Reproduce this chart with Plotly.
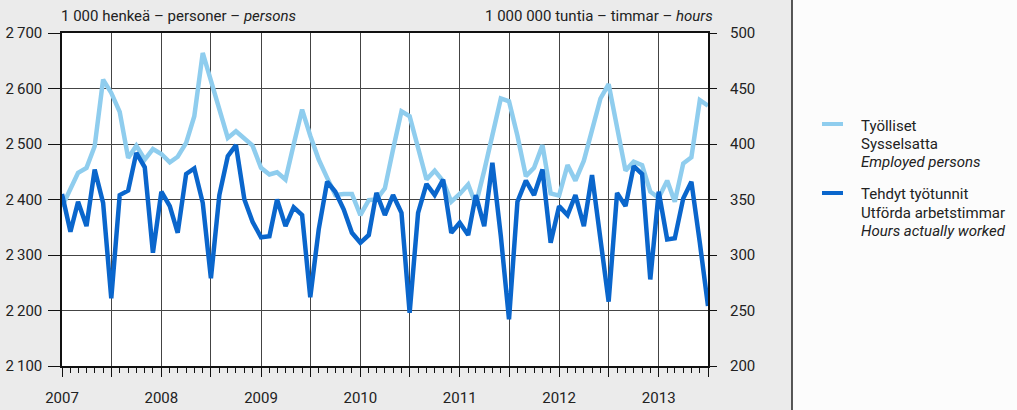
import plotly.graph_objects as go
import pandas as pd

# Monthly data Jan 2007 – Jul 2013
months = pd.date_range("2007-01-01", "2013-07-01", freq="MS")

employed_persons = [  # 1 000 persons (left axis)
    2387, 2420, 2448, 2457, 2496, 2616, 2592, 2558, 2475, 2497, 2472, 2491,
    2482, 2467, 2477, 2502, 2550, 2664, 2612, 2562, 2511, 2523, 2511, 2497,
    2457, 2445, 2449, 2436, 2499, 2562, 2515, 2472, 2439, 2408, 2410, 2410,
    2372, 2399, 2400, 2420, 2490, 2559, 2550, 2493, 2436, 2452, 2433, 2396,
    2410, 2427, 2391, 2452, 2512, 2582, 2577, 2515, 2442, 2457, 2498, 2411,
    2407, 2462, 2434, 2470, 2525, 2582, 2608, 2528, 2452, 2468, 2462, 2414,
    2403, 2434, 2396, 2465, 2476, 2579, 2569,
]

hours_worked = [  # 1 000 000 hours (right axis)
    355, 321, 348, 326, 377, 347, 261, 354, 358, 392, 379, 302,
    357, 344, 320, 373, 378, 347, 279, 354, 389, 399, 350, 330,
    316, 317, 350, 326, 343, 336, 262, 323, 366, 357, 341, 320,
    311, 318, 356, 336, 354, 338, 248, 338, 364, 354, 368, 320,
    329, 318, 354, 326, 383, 317, 242, 348, 367, 354, 377, 311,
    344, 336, 354, 326, 372, 317, 258, 356, 344, 380, 373, 278,
    357, 314, 315, 351, 366, 311, 254,
]

year_labels = ["2007", "2008", "2009", "2010", "2011", "2012", "2013"]
persons_ticks = [2100, 2200, 2300, 2400, 2500, 2600, 2700]
persons_ticktext = ["2\u2009100", "2\u2009200", "2\u2009300", "2\u2009400",
                    "2\u2009500", "2\u2009600", "2\u2009700"]
hours_ticks = [200, 250, 300, 350, 400, 450, 500]

legend_persons = ["Työlliset", "Sysselsatta", "<i>Employed persons</i>"]
legend_hours = ["Tehdyt työtunnit", "Utförda arbetstimmar", "<i>Hours actually worked</i>"]

LIGHT = "#8fcdee"
DARK = "#0a66cc"
TXT = "#222222"
FONT = "Roboto, Liberation Sans, sans-serif"

W, H = 1017, 410
PL, PR, PT, PB = 62, 708, 33, 366  # plot area in window pixels

fig = go.Figure()
fig.add_trace(go.Scatter(x=months, y=employed_persons, mode="lines",
                         line=dict(color=LIGHT, width=4.5), yaxis="y", showlegend=False,
                         hoverinfo="skip"))
fig.add_trace(go.Scatter(x=months, y=hours_worked, mode="lines",
                         line=dict(color=DARK, width=4.5), yaxis="y2", showlegend=False,
                         hoverinfo="skip"))

# x ticks: gridlines each half year, labels at years
tickvals, ticktext = [], []
for y in year_labels:
    tickvals.append(f"{y}-01-01")
    ticktext.append(y)
    tickvals.append(f"{y}-07-01")
    ticktext.append("")

fig.update_layout(
    width=W, height=H,
    margin=dict(l=PL, r=W - PR, t=PT, b=H - PB, autoexpand=False),
    paper_bgcolor="#ebebeb",
    plot_bgcolor="white",
    font=dict(family=FONT, size=15, color=TXT),
    xaxis=dict(
        range=["2007-01-01", "2013-07-01"],
        tickvals=tickvals, ticktext=ticktext,
        showgrid=True, gridcolor="#444", gridwidth=1,
        showline=True, linecolor="#111", linewidth=1.5, mirror=True,
        ticks="outside", ticklen=9, tickcolor="#111",
        minor=dict(dtick="M1", ticks="outside", ticklen=5, tickcolor="#111", showgrid=False),
        tickfont=dict(size=15), ticklabelstandoff=8,
        zeroline=False, automargin=False,
    ),
    yaxis=dict(
        range=[2100, 2700], tickvals=persons_ticks, ticktext=persons_ticktext,
        showgrid=True, gridcolor="#444", gridwidth=1,
        showline=True, linecolor="#111", linewidth=1.5, mirror=True,
        ticks="outside", ticklen=12, tickcolor="#111",
        tickfont=dict(size=15), ticklabelstandoff=3,
        zeroline=False, automargin=False,
    ),
    yaxis2=dict(
        range=[200, 500], tickvals=hours_ticks, overlaying="y", side="right",
        showgrid=False, showline=False,
        ticks="outside", ticklen=8, tickcolor="#111",
        tickfont=dict(size=15), ticklabelstandoff=10,
        zeroline=False, automargin=False,
    ),
)

def px(p):
    return (p - PL) / (PR - PL)

def py(p):
    return (PB - p) / (PB - PT)

# white right panel and divider
fig.add_shape(type="rect", xref="paper", yref="paper",
              x0=px(792), x1=px(1017), y0=py(410), y1=py(0),
              fillcolor="#fcfcfc", line=dict(width=0), layer="below")
fig.add_shape(type="line", xref="paper", yref="paper",
              x0=px(792), x1=px(792), y0=py(410), y1=py(0),
              line=dict(color="#222", width=1.5))

# axis titles
fig.add_annotation(x=px(59), y=py(16), xref="paper", yref="paper", xanchor="left", yanchor="middle",
                   text="1 000 henkeä – personer – <i>persons</i>", showarrow=False,
                   font=dict(size=15, color=TXT))
fig.add_annotation(x=px(715), y=py(16), xref="paper", yref="paper",
                   xanchor="right", yanchor="middle",
                   text="1 000 000 tuntia – timmar – <i>hours</i>", showarrow=False,
                   font=dict(size=15, color=TXT))

# legend
legend_items = [
    (LIGHT, legend_persons, 124, [126, 144, 162]),
    (DARK, legend_hours, 193, [194, 213, 231]),
]
for color, lines, ysample, ylines in legend_items:
    fig.add_shape(type="line", xref="paper", yref="paper",
                  x0=px(822), x1=px(843), y0=py(ysample), y1=py(ysample),
                  line=dict(color=color, width=4))
    for text, yl in zip(lines, ylines):
        fig.add_annotation(x=px(859), y=py(yl), xref="paper", yref="paper",
                           xanchor="left", yanchor="middle", align="left",
                           text=text, showarrow=False, font=dict(size=15, color=TXT))

fig.write_html("out.html", config={"displayModeBar": False},
               post_script="document.body.style.margin='0';document.body.style.overflow='hidden';")
